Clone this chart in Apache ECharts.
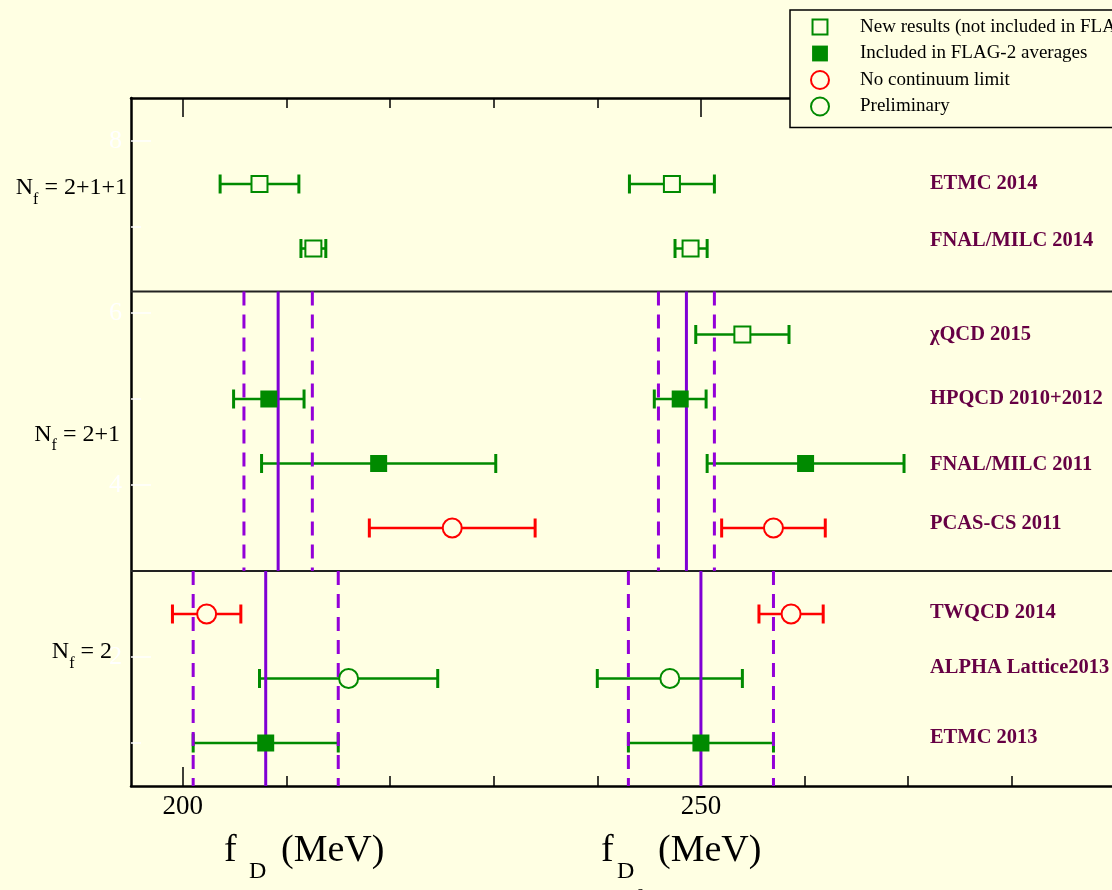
<!DOCTYPE html>
<html>
<head>
<meta charset="utf-8">
<script src="https://cdn.jsdelivr.net/npm/echarts@6/dist/echarts.min.js"></script>
<style>
  html, body { margin: 0; padding: 0; background: #ffffe3; }
  #chart { width: 1112px; height: 890px; }
</style>
</head>
<body>
<div id="chart"></div>
<script>
// ---- data -------------------------------------------------------------
// Collaborations, top to bottom
const collaborations = [
  'ETMC 2014', 'FNAL/MILC 2014', 'χQCD 2015', 'HPQCD 2010+2012',
  'FNAL/MILC 2011', 'PCAS-CS 2011', 'TWQCD 2014', 'ALPHA Lattice2013', 'ETMC 2013'
];
// vertical slot of each result
const rowPos = [7.5, 6.75, 5.75, 5, 4.25, 3.5, 2.5, 1.75, 1];
// slot of each collaboration name
const namePos = [7.5, 6.84, 5.75, 5.0, 4.24, 3.55, 2.52, 1.87, 1.06];
const nameX = 272.1;
// 0 = new result, 1 = in FLAG-2 average, 2 = no continuum limit, 3 = preliminary
const rowKind = [0, 0, 0, 1, 1, 2, 2, 3, 1];

// f_D  [central, lower, upper] in MeV (null = not computed)
const fD = [
  [207.4, 203.6, 211.2],
  [212.6, 211.4, 213.8],
  null,
  [208.3, 204.9, 211.7],
  [218.9, 207.6, 230.2],
  [226.0, 218.0, 234.0],
  [202.3, 199.0, 205.6],
  [216.0, 207.4, 224.6],
  [208.0, 201.0, 215.0]
];
// f_Ds [central, lower, upper] in MeV
const fDs = [
  [247.2, 243.1, 251.3],
  [249.0, 247.5, 250.6],
  [254.0, 249.5, 258.5],
  [248.0, 245.5, 250.5],
  [260.1, 250.6, 269.6],
  [257.0, 252.0, 262.0],
  [258.7, 255.6, 261.8],
  [247.0, 240.0, 254.0],
  [250.0, 243.0, 257.0]
];

// FLAG averages [central, error] and the vertical span they cover
const avgNf21D = [209.2, 3.3];
const avgNf21Ds = [248.6, 2.7];
const avgNf21Span = [3.0, 6.25];
const avgNf2D = [208.0, 7.0];
const avgNf2Ds = [250.0, 7.0];
const avgNf2Span = [0.5, 3.0];

// group separators and group names
const separators = [6.25, 3.0];
const nfGroups = ['2+1+1', '2+1', '2'];
const nfPos = [7.46, 4.59, 2.06];

// axes (the frame is open on the right: the visible window ends near 289.7 MeV)
const xRange = [195, 289.67];
const yRange = [0.5, 8.5];
const xMajorTicks = [200, 250];
const xMinorTicks = [210, 220, 230, 240, 260, 270, 280];
const yMajorTicks = [2, 4, 6, 8];
const yMinorTicks = [1, 3, 5, 7];

const legendNames = [
  'New results (not included in FLAG-2 averages)',
  'Included in FLAG-2 averages',
  'No continuum limit',
  'Preliminary'
];

// ---- styles -----------------------------------------------------------
const BG = '#ffffe3';
const GREEN = '#008a00';
const RED = '#ff0000';
const SOLID = '#8000d4';
const DASHED = '#9400d8';
const NAME_COLOR = '#660044';
const SERIF = "'Liberation Serif', 'DejaVu Serif', serif";
const kindColor = [GREEN, GREEN, RED, GREEN];
const nfRightInset = [4, 11, 19];

// ---- build series data ------------------------------------------------
const markerData = [[], [], [], []];
const barData = [];
[fD, fDs].forEach(function (set) {
  set.forEach(function (v, i) {
    if (!v) return;
    markerData[rowKind[i]].push([v[0], rowPos[i]]);
    barData.push([v[1], v[2], rowPos[i], rowKind[i]]);
  });
});

// vertical average lines: [x, yFrom, yTo, dashed?]
const avgLines = [];
[[avgNf21D, avgNf21Span], [avgNf21Ds, avgNf21Span], [avgNf2D, avgNf2Span], [avgNf2Ds, avgNf2Span]]
  .forEach(function (p) {
    const a = p[0], s = p[1];
    avgLines.push([a[0], s[0], s[1], 0]);
    avgLines.push([a[0] - a[1], s[0], s[1], 1]);
    avgLines.push([a[0] + a[1], s[0], s[1], 1]);
  });

const markerStyles = [
  { symbol: 'rect', symbolSize: 16, itemStyle: { color: BG, borderColor: GREEN, borderWidth: 2, opacity: 1 } },
  { symbol: 'rect', symbolSize: 17, itemStyle: { color: GREEN, borderWidth: 0, opacity: 1 } },
  { symbol: 'circle', symbolSize: 19, itemStyle: { color: BG, borderColor: RED, borderWidth: 2, opacity: 1 } },
  { symbol: 'circle', symbolSize: 19, itemStyle: { color: BG, borderColor: GREEN, borderWidth: 2, opacity: 1 } }
];

const legendIcons = [
  { icon: 'path://M0 0L0 0M20 20L20 20M1.7 1.7H18.3V18.3H1.7Z', itemStyle: { color: BG, borderColor: GREEN, borderWidth: 2, opacity: 1 } },
  { icon: 'path://M0 0L0 0M20 20L20 20M1.2 1.2H18.8V18.8H1.2Z', itemStyle: { color: GREEN, borderWidth: 0, opacity: 1 } },
  { icon: 'circle', itemStyle: { color: BG, borderColor: RED, borderWidth: 2, opacity: 1 } },
  { icon: 'circle', itemStyle: { color: BG, borderColor: GREEN, borderWidth: 2, opacity: 1 } }
];

const series = [];

// horizontal group separators
series.push({
  type: 'custom', silent: true, clip: false, z: 1,
  data: separators.map(function (y) { return [y]; }),
  renderItem: function (params, api) {
    const a = api.coord([xRange[0], api.value(0)]);
    const b = api.coord([xRange[1], api.value(0)]);
    return { type: 'line', shape: { x1: a[0], y1: a[1], x2: b[0], y2: b[1] },
             style: { stroke: '#222', lineWidth: 2 } };
  }
});

// error bars with caps
series.push({
  type: 'custom', silent: true, clip: false, z: 2,
  encode: { x: [0, 1], y: 2 },
  data: barData,
  renderItem: function (params, api) {
    const lo = api.coord([api.value(0), api.value(2)]);
    const hi = api.coord([api.value(1), api.value(2)]);
    const c = kindColor[api.value(3)];
    const cap = 9.5;
    return { type: 'group', children: [
      { type: 'line', shape: { x1: lo[0], y1: lo[1], x2: hi[0], y2: hi[1] }, style: { stroke: c, lineWidth: 2.6 } },
      { type: 'line', shape: { x1: lo[0], y1: lo[1] - cap, x2: lo[0], y2: lo[1] + cap }, style: { stroke: c, lineWidth: 3 } },
      { type: 'line', shape: { x1: hi[0], y1: hi[1] - cap, x2: hi[0], y2: hi[1] + cap }, style: { stroke: c, lineWidth: 3 } }
    ] };
  }
});

// FLAG average bands
series.push({
  type: 'custom', silent: true, clip: false, z: 3,
  data: avgLines,
  renderItem: function (params, api) {
    const a = api.coord([api.value(0), api.value(2)]);
    const b = api.coord([api.value(0), api.value(1)]);
    const dashed = api.value(3) === 1;
    return { type: 'line', shape: { x1: a[0], y1: a[1], x2: b[0], y2: b[1] },
             style: { stroke: dashed ? DASHED : SOLID, lineWidth: 3, lineDash: dashed ? [14, 9] : null } };
  }
});

// markers
legendNames.forEach(function (name, k) {
  series.push(Object.assign({
    type: 'scatter', name: name, z: 4, silent: true,
    data: markerData[k]
  }, markerStyles[k]));
});

// collaboration names
series.push({
  type: 'custom', silent: true, clip: false, z: 5,
  data: collaborations.map(function (n, i) { return [nameX, namePos[i], i]; }),
  renderItem: function (params, api) {
    const p = api.coord([api.value(0), api.value(1)]);
    return { type: 'text', x: p[0], y: p[1],
             style: { text: collaborations[api.value(2)], fill: NAME_COLOR,
                      font: 'bold 20.5px ' + SERIF, align: 'left', verticalAlign: 'middle' } };
  }
});

// N_f group names, left of the frame
series.push({
  type: 'custom', silent: true, clip: false, z: 5,
  data: nfGroups.map(function (g, i) { return [xRange[0], nfPos[i], i]; }),
  renderItem: function (params, api) {
    const i = api.value(2);
    const p = api.coord([api.value(0), api.value(1)]);
    return { type: 'text', x: p[0] - nfRightInset[i], y: p[1],
             style: {
               text: '{n|N}{s|f}{n| = ' + nfGroups[i] + '}',
               align: 'right', verticalAlign: 'middle', fill: '#000',
               rich: {
                 n: { fontSize: 24, fontFamily: SERIF, fill: '#000' },
                 s: { fontSize: 16, fontFamily: SERIF, fill: '#000', padding: [24, 0, 0, 0] }
               }
             } };
  }
});

function xAxisDef(pos, ticks, len, withLine, withLabels) {
  return {
    type: 'value', position: pos, min: xRange[0], max: xRange[1],
    axisLine: { show: withLine, lineStyle: { color: '#000', width: 2.5 } },
    axisTick: { show: true, inside: true, length: len, customValues: ticks,
                lineStyle: { color: '#000', width: 1.5 } },
    axisLabel: withLabels ? { show: true, customValues: ticks, margin: 7,
                 fontFamily: SERIF, fontSize: 27, color: '#000' } : { show: false },
    splitLine: { show: false }
  };
}
function yAxisDef(ticks, len, withLine, withLabels) {
  return {
    type: 'value', position: 'left', min: yRange[0], max: yRange[1],
    axisLine: { show: withLine, lineStyle: { color: '#000', width: 2.5 } },
    axisTick: { show: true, inside: true, length: len, customValues: ticks,
                lineStyle: { color: '#ffffff', width: 1.5 } },
    axisLabel: withLabels ? { show: true, customValues: ticks, margin: 9,
                 fontFamily: SERIF, fontSize: 26, color: '#ffffff' } : { show: false },
    splitLine: { show: false }
  };
}

const option = {
  backgroundColor: BG,
  animation: false,
  grid: { left: 131, top: 98, right: 0, height: 688 },
  xAxis: [
    xAxisDef('bottom', xMinorTicks, 10, true, false),
    xAxisDef('bottom', xMajorTicks, 19, false, true),
    xAxisDef('top', xMinorTicks, 10, true, false),
    xAxisDef('top', xMajorTicks, 19, false, false)
  ],
  yAxis: [
    yAxisDef(yMajorTicks, 20, true, true),
    yAxisDef(yMinorTicks, 10, false, false)
  ],
  legend: {
    orient: 'vertical', left: 790, top: 10, z: 10,
    padding: [7, 40, 11, 20],
    itemWidth: 18, itemHeight: 18, itemGap: 6.5,
    symbolKeepAspect: true,
    selectedMode: false,
    backgroundColor: BG, borderColor: '#000', borderWidth: 1.5,
    formatter: function (name) { return '{g| }' + name; },
    textStyle: {
      fontFamily: SERIF, fontSize: 19, color: '#000', lineHeight: 20,
      rich: { g: { width: 26, fontSize: 19 } }
    },
    data: legendNames.map(function (n, k) {
      return { name: n, icon: legendIcons[k].icon, itemStyle: legendIcons[k].itemStyle };
    })
  },
  graphic: [
    { type: 'text', x: 224, y: 851, silent: true,
      style: { text: 'f', font: '38px ' + SERIF, fill: '#000', align: 'left', verticalAlign: 'middle' } },
    { type: 'text', x: 249, y: 872, silent: true,
      style: { text: 'D', font: '24px ' + SERIF, fill: '#000', align: 'left', verticalAlign: 'middle' } },
    { type: 'text', x: 281, y: 851, silent: true,
      style: { text: '(MeV)', font: '38px ' + SERIF, fill: '#000', align: 'left', verticalAlign: 'middle' } },
    { type: 'text', x: 601, y: 851, silent: true,
      style: { text: 'f', font: '38px ' + SERIF, fill: '#000', align: 'left', verticalAlign: 'middle' } },
    { type: 'text', x: 617, y: 872, silent: true,
      style: { text: 'D', font: '24px ' + SERIF, fill: '#000', align: 'left', verticalAlign: 'middle' } },
    { type: 'text', x: 637, y: 893, silent: true,
      style: { text: 's', font: '17px ' + SERIF, fill: '#000', align: 'left', verticalAlign: 'middle' } },
    { type: 'text', x: 658, y: 851, silent: true,
      style: { text: '(MeV)', font: '38px ' + SERIF, fill: '#000', align: 'left', verticalAlign: 'middle' } }
  ],
  series: series
};

const chart = echarts.init(document.getElementById('chart'), null, { renderer: 'canvas' });
chart.setOption(option);
</script>
</body>
</html>
